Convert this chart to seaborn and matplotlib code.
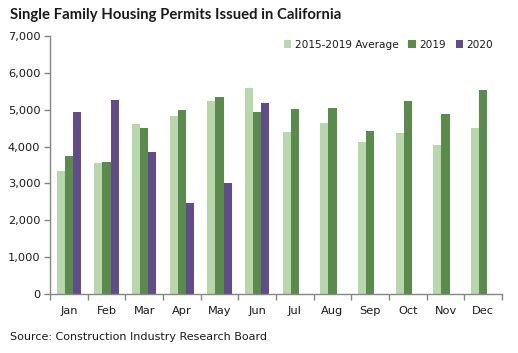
import numpy as np
import pandas as pd
import matplotlib
matplotlib.use("Agg")
import matplotlib.pyplot as plt
import seaborn as sns
from matplotlib.ticker import FuncFormatter, FixedLocator

months = ["Jan", "Feb", "Mar", "Apr", "May", "Jun",
          "Jul", "Aug", "Sep", "Oct", "Nov", "Dec"]
avg_2015_2019 = [3345, 3560, 4620, 4840, 5235, 5600, 4405, 4650, 4130, 4375, 4050, 4510]
permits_2019 = [3750, 3570, 4510, 5000, 5355, 4945, 5025, 5055, 4430, 5245, 4890, 5545]
permits_2020 = [4945, 5270, 3860, 2475, 3020, 5190,
                np.nan, np.nan, np.nan, np.nan, np.nan, np.nan]
series_names = ["2015-2019 Average", "2019", "2020"]
colors = ["#b8d7ac", "#5a8b4c", "#614b8b"]

df = pd.DataFrame({
    "month": months * 3,
    "series": [series_names[0]] * 12 + [series_names[1]] * 12 + [series_names[2]] * 12,
    "permits": avg_2015_2019 + permits_2019 + permits_2020,
})

sns.set_style("white")
plt.rcParams["font.family"] = ["DejaVu Sans"]

fig = plt.figure(figsize=(5.18, 3.53), dpi=100)
ax = fig.add_axes([50 / 518, 59 / 353, 452 / 518, 258 / 353])

sns.barplot(data=df, x="month", y="permits", hue="series", order=months,
            hue_order=series_names, palette=colors, width=0.64,
            saturation=1, errorbar=None, linewidth=0, ax=ax)

ax.set_xlim(-0.5, 11.5)
ax.set_ylim(0, 7000)
ax.set_yticks(range(0, 7001, 1000))
ax.yaxis.set_major_formatter(FuncFormatter(lambda v, p: f"{int(v):,}"))
ax.set_xlabel("")
ax.set_ylabel("")

# spines and ticks
for s in ["top", "right"]:
    ax.spines[s].set_visible(False)
for s in ["left", "bottom"]:
    ax.spines[s].set_color("#868686")
    ax.spines[s].set_linewidth(1)
ax.tick_params(axis="y", which="major", left=True, length=4, width=1,
               color="#868686", pad=3, labelsize=8.2, labelcolor="#1a1a1a")
ax.tick_params(axis="x", which="major", length=0, pad=9, labelsize=8.2,
               labelcolor="#1a1a1a")
ax.xaxis.set_minor_locator(FixedLocator(np.arange(-0.5, 12.0, 1.0)))
ax.tick_params(axis="x", which="minor", bottom=True, length=4, width=1,
               color="#868686")

leg = ax.legend(loc="upper right", bbox_to_anchor=(0.995, 1.01), ncol=3,
                frameon=False, fontsize=7.6, handlelength=0.7, handleheight=0.7,
                handletextpad=0.35, columnspacing=0.9, borderaxespad=0.2)
for t in leg.get_texts():
    t.set_color("#1a1a1a")

fig.text(10 / 518, 1 - 15 / 353, "Single Family Housing Permits Issued in California",
         fontsize=10.7, fontweight="bold", family=["Lato", "DejaVu Sans"],
         va="center", ha="left", color="#1a1a1a")
fig.text(10 / 518, 1 - 337 / 353, "Source: Construction Industry Research Board",
         fontsize=8.0, va="center", ha="left", color="#1a1a1a")

fig.savefig("out.png", dpi=100)
